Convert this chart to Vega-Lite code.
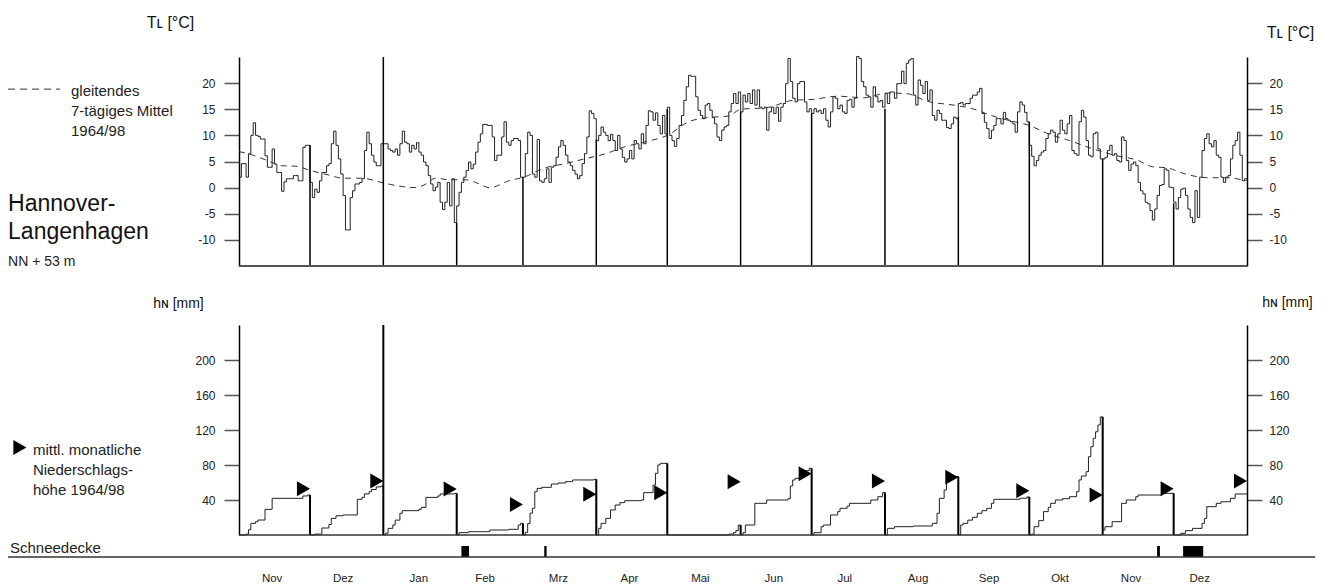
{
  "$schema": "https://vega.github.io/schema/vega-lite/v6.json",
  "width": 1008,
  "height": 478,
  "autosize": {"type": "none"},
  "padding": {"left": 239, "top": 57, "right": 84, "bottom": 52},
  "background": "white",
  "config": {"view": {"stroke": null}, "font": "Liberation Sans", "axis": {"grid": false}, "text": {"font": "Liberation Sans", "color": "#222"}},
  "datasets": {
    "temp": [
      {"d":0,"t":2.0},{"d":1,"t":4.6},{"d":2,"t":4.6},{"d":3,"t":2.0},{"d":4,"t":6.5},{"d":5,"t":10.0},{"d":6,"t":12.4},{"d":7,"t":10.0},{"d":8,"t":9.8},{"d":9,"t":9.3},
      {"d":10,"t":9.3},{"d":11,"t":6.1},{"d":12,"t":3.9},{"d":13,"t":3.9},{"d":14,"t":7.4},{"d":15,"t":4.5},{"d":16,"t":2.9},{"d":17,"t":2.9},{"d":18,"t":-0.7},{"d":19,"t":1.1},
      {"d":20,"t":1.7},{"d":21,"t":1.7},{"d":22,"t":1.7},{"d":23,"t":2.3},{"d":24,"t":2.3},{"d":25,"t":1.3},{"d":26,"t":1.3},{"d":27,"t":7.7},{"d":28,"t":8.1},{"d":29,"t":8.1},
      {"d":30,"t":1.0},{"d":31,"t":-1.9},{"d":32,"t":-0.3},{"d":33,"t":-0.9},{"d":34,"t":1.3},{"d":35,"t":2.9},{"d":36,"t":2.9},{"d":37,"t":4.2},{"d":38,"t":4.6},{"d":39,"t":8.4},
      {"d":40,"t":10.8},{"d":41,"t":8.1},{"d":42,"t":5.5},{"d":43,"t":2.6},{"d":44,"t":-1.5},{"d":45,"t":-8.1},{"d":46,"t":-8.1},{"d":47,"t":-1.9},{"d":48,"t":-0.6},{"d":49,"t":0.7},
      {"d":50,"t":0.7},{"d":51,"t":1.0},{"d":52,"t":1.7},{"d":53,"t":7.1},{"d":54,"t":10.6},{"d":55,"t":8.4},{"d":56,"t":6.2},{"d":57,"t":4.9},{"d":58,"t":4.2},{"d":59,"t":4.2},
      {"d":60,"t":8.4},{"d":61,"t":8.4},{"d":62,"t":8.4},{"d":63,"t":7.4},{"d":64,"t":7.1},{"d":65,"t":6.8},{"d":66,"t":7.4},{"d":67,"t":6.2},{"d":68,"t":8.4},{"d":69,"t":10.8},
      {"d":70,"t":8.7},{"d":71,"t":8.4},{"d":72,"t":6.8},{"d":73,"t":8.1},{"d":74,"t":7.4},{"d":75,"t":8.6},{"d":76,"t":6.8},{"d":77,"t":6.2},{"d":78,"t":4.9},{"d":79,"t":4.2},
      {"d":80,"t":2.3},{"d":81,"t":0.7},{"d":82,"t":-0.6},{"d":83,"t":0.1},{"d":84,"t":1.0},{"d":85,"t":-2.8},{"d":86,"t":-4.2},{"d":87,"t":-2.8},{"d":88,"t":1.0},{"d":89,"t":-3.5},
      {"d":90,"t":1.7},{"d":91,"t":-6.7},{"d":92,"t":-3.5},{"d":93,"t":-0.9},{"d":94,"t":1.0},{"d":95,"t":2.0},{"d":96,"t":3.3},{"d":97,"t":4.9},{"d":98,"t":3.6},{"d":99,"t":4.5},
      {"d":100,"t":6.8},{"d":101,"t":8.7},{"d":102,"t":10.3},{"d":103,"t":12.1},{"d":104,"t":12.1},{"d":105,"t":11.9},{"d":106,"t":11.9},{"d":107,"t":9.7},{"d":108,"t":5.2},{"d":109,"t":6.2},
      {"d":110,"t":6.2},{"d":111,"t":9.7},{"d":112,"t":12.6},{"d":113,"t":8.7},{"d":114,"t":8.1},{"d":115,"t":9.0},{"d":116,"t":9.4},{"d":117,"t":9.4},{"d":118,"t":9.0},{"d":119,"t":2.0},
      {"d":120,"t":2.0},{"d":121,"t":6.5},{"d":122,"t":10.6},{"d":123,"t":10.0},{"d":124,"t":2.6},{"d":125,"t":2.0},{"d":126,"t":9.2},{"d":127,"t":1.3},{"d":128,"t":1.0},{"d":129,"t":1.7},
      {"d":130,"t":3.6},{"d":131,"t":1.0},{"d":132,"t":3.9},{"d":133,"t":4.2},{"d":134,"t":5.8},{"d":135,"t":7.8},{"d":136,"t":9.0},{"d":137,"t":8.1},{"d":138,"t":6.2},{"d":139,"t":4.9},
      {"d":140,"t":4.2},{"d":141,"t":3.3},{"d":142,"t":2.6},{"d":143,"t":1.7},{"d":144,"t":2.3},{"d":145,"t":4.6},{"d":146,"t":6.5},{"d":147,"t":9.7},{"d":148,"t":14.7},{"d":149,"t":14.2},
      {"d":150,"t":13.2},{"d":151,"t":9.0},{"d":152,"t":10.0},{"d":153,"t":11.6},{"d":154,"t":10.6},{"d":155,"t":10.0},{"d":156,"t":9.0},{"d":157,"t":10.2},{"d":158,"t":9.0},{"d":159,"t":7.1},
      {"d":160,"t":10.0},{"d":161,"t":7.4},{"d":162,"t":5.8},{"d":163,"t":4.9},{"d":164,"t":5.5},{"d":165,"t":7.1},{"d":166,"t":5.5},{"d":167,"t":9.0},{"d":168,"t":8.4},{"d":169,"t":7.4},
      {"d":170,"t":10.3},{"d":171,"t":8.4},{"d":172,"t":11.9},{"d":173,"t":14.7},{"d":174,"t":14.5},{"d":175,"t":12.9},{"d":176,"t":14.3},{"d":177,"t":11.9},{"d":178,"t":10.3},{"d":179,"t":13.8},
      {"d":180,"t":10.3},{"d":181,"t":15.4},{"d":182,"t":10.0},{"d":183,"t":9.0},{"d":184,"t":7.9},{"d":185,"t":9.4},{"d":186,"t":11.9},{"d":187,"t":13.8},{"d":188,"t":16.7},{"d":189,"t":19.3},
      {"d":190,"t":21.5},{"d":191,"t":21.3},{"d":192,"t":21.3},{"d":193,"t":17.4},{"d":194,"t":14.8},{"d":195,"t":13.8},{"d":196,"t":13.2},{"d":197,"t":15.8},{"d":198,"t":16.1},{"d":199,"t":14.8},
      {"d":200,"t":13.4},{"d":201,"t":12.2},{"d":202,"t":9.7},{"d":203,"t":9.0},{"d":204,"t":11.0},{"d":205,"t":11.6},{"d":206,"t":11.9},{"d":207,"t":14.5},{"d":208,"t":16.1},{"d":209,"t":18.0},
      {"d":210,"t":16.1},{"d":211,"t":18.3},{"d":212,"t":14.5},{"d":213,"t":17.7},{"d":214,"t":16.4},{"d":215,"t":18.0},{"d":216,"t":16.1},{"d":217,"t":18.7},{"d":218,"t":15.8},{"d":219,"t":18.7},
      {"d":220,"t":15.4},{"d":221,"t":15.1},{"d":222,"t":15.4},{"d":223,"t":11.0},{"d":224,"t":14.5},{"d":225,"t":15.4},{"d":226,"t":14.2},{"d":227,"t":15.4},{"d":228,"t":12.7},{"d":229,"t":15.4},
      {"d":230,"t":16.1},{"d":231,"t":19.9},{"d":232,"t":24.7},{"d":233,"t":20.3},{"d":234,"t":17.1},{"d":235,"t":16.4},{"d":236,"t":19.9},{"d":237,"t":20.3},{"d":238,"t":20.3},{"d":239,"t":16.4},
      {"d":240,"t":14.5},{"d":241,"t":15.1},{"d":242,"t":14.2},{"d":243,"t":15.1},{"d":244,"t":14.5},{"d":245,"t":14.8},{"d":246,"t":14.2},{"d":247,"t":15.1},{"d":248,"t":12.9},{"d":249,"t":11.6},
      {"d":250,"t":14.5},{"d":251,"t":17.4},{"d":252,"t":17.1},{"d":253,"t":15.1},{"d":254,"t":15.8},{"d":255,"t":14.5},{"d":256,"t":14.2},{"d":257,"t":16.7},{"d":258,"t":16.9},{"d":259,"t":15.4},
      {"d":260,"t":17.1},{"d":261,"t":25.1},{"d":262,"t":24.7},{"d":263,"t":20.3},{"d":264,"t":19.3},{"d":265,"t":17.7},{"d":266,"t":17.4},{"d":267,"t":15.4},{"d":268,"t":19.3},{"d":269,"t":17.4},
      {"d":270,"t":16.4},{"d":271,"t":16.7},{"d":272,"t":15.4},{"d":273,"t":18.0},{"d":274,"t":16.1},{"d":275,"t":18.3},{"d":276,"t":18.3},{"d":277,"t":17.1},{"d":278,"t":19.9},{"d":279,"t":19.9},
      {"d":280,"t":22.3},{"d":281,"t":19.9},{"d":282,"t":23.8},{"d":283,"t":24.4},{"d":284,"t":24.7},{"d":285,"t":17.7},{"d":286,"t":15.8},{"d":287,"t":20.6},{"d":288,"t":19.6},{"d":289,"t":18.0},
      {"d":290,"t":20.3},{"d":291,"t":16.7},{"d":292,"t":18.7},{"d":293,"t":13.8},{"d":294,"t":12.9},{"d":295,"t":14.8},{"d":296,"t":14.2},{"d":297,"t":12.9},{"d":298,"t":12.9},{"d":299,"t":11.5},
      {"d":300,"t":11.3},{"d":301,"t":12.2},{"d":302,"t":13.5},{"d":303,"t":13.2},{"d":304,"t":16.1},{"d":305,"t":16.3},{"d":306,"t":15.8},{"d":307,"t":16.1},{"d":308,"t":16.1},{"d":309,"t":17.1},
      {"d":310,"t":17.7},{"d":311,"t":17.7},{"d":312,"t":18.3},{"d":313,"t":19.0},{"d":314,"t":14.2},{"d":315,"t":12.5},{"d":316,"t":11.3},{"d":317,"t":9.4},{"d":318,"t":11.0},{"d":319,"t":11.9},
      {"d":320,"t":13.2},{"d":321,"t":13.2},{"d":322,"t":12.2},{"d":323,"t":14.4},{"d":324,"t":13.2},{"d":325,"t":12.9},{"d":326,"t":12.6},{"d":327,"t":12.2},{"d":328,"t":10.6},{"d":329,"t":14.5},
      {"d":330,"t":16.4},{"d":331,"t":15.8},{"d":332,"t":14.4},{"d":333,"t":12.6},{"d":334,"t":8.1},{"d":335,"t":6.0},{"d":336,"t":4.2},{"d":337,"t":5.2},{"d":338,"t":6.2},{"d":339,"t":6.8},
      {"d":340,"t":7.1},{"d":341,"t":9.4},{"d":342,"t":10.3},{"d":343,"t":11.0},{"d":344,"t":10.6},{"d":345,"t":8.7},{"d":346,"t":10.3},{"d":347,"t":12.9},{"d":348,"t":11.0},{"d":349,"t":10.3},
      {"d":350,"t":12.2},{"d":351,"t":13.8},{"d":352,"t":7.1},{"d":353,"t":6.5},{"d":354,"t":6.2},{"d":355,"t":12.6},{"d":356,"t":14.8},{"d":357,"t":13.5},{"d":358,"t":9.0},{"d":359,"t":6.2},
      {"d":360,"t":5.9},{"d":361,"t":10.3},{"d":362,"t":10.6},{"d":363,"t":7.4},{"d":364,"t":5.5},{"d":365,"t":5.5},{"d":366,"t":5.8},{"d":367,"t":7.1},{"d":368,"t":8.1},{"d":369,"t":6.2},
      {"d":370,"t":6.5},{"d":371,"t":5.2},{"d":372,"t":4.9},{"d":373,"t":9.7},{"d":374,"t":9.0},{"d":375,"t":5.2},{"d":376,"t":3.3},{"d":377,"t":4.5},{"d":378,"t":4.9},{"d":379,"t":4.2},
      {"d":380,"t":1.0},{"d":381,"t":-0.6},{"d":382,"t":-1.2},{"d":383,"t":-2.8},{"d":384,"t":-3.1},{"d":385,"t":-4.4},{"d":386,"t":-6.2},{"d":387,"t":-4.1},{"d":388,"t":-1.5},{"d":389,"t":0.4},
      {"d":390,"t":0.6},{"d":391,"t":3.6},{"d":392,"t":3.3},{"d":393,"t":0.1},{"d":394,"t":0.0},{"d":395,"t":-2.8},{"d":396,"t":-4.1},{"d":397,"t":-1.9},{"d":398,"t":-0.3},{"d":399,"t":-0.1},
      {"d":400,"t":-1.5},{"d":401,"t":-4.1},{"d":402,"t":-5.7},{"d":403,"t":-6.7},{"d":404,"t":-0.6},{"d":405,"t":-5.7},{"d":406,"t":2.0},{"d":407,"t":7.1},{"d":408,"t":9.4},{"d":409,"t":10.3},
      {"d":410,"t":8.4},{"d":411,"t":7.8},{"d":412,"t":9.0},{"d":413,"t":6.2},{"d":414,"t":5.8},{"d":415,"t":2.0},{"d":416,"t":1.0},{"d":417,"t":2.0},{"d":418,"t":2.3},{"d":419,"t":5.5},
      {"d":420,"t":8.1},{"d":421,"t":9.0},{"d":422,"t":10.6},{"d":423,"t":6.2},{"d":424,"t":1.3},{"d":425,"t":1.7},{"d":426,"t":1.7}
    ],
    "mean": [
      {"d":0,"t":6.9},{"d":6,"t":6.2},{"d":13,"t":5.0},{"d":18,"t":4.2},{"d":24,"t":4.1},{"d":30,"t":3.3},{"d":38,"t":2.4},{"d":44,"t":1.8},{"d":52,"t":1.8},{"d":61,"t":0.9},
      {"d":69,"t":0.2},{"d":75,"t":0.0},{"d":79,"t":0.7},{"d":83,"t":1.8},{"d":89,"t":1.5},{"d":96,"t":1.5},{"d":100,"t":1.0},{"d":106,"t":0.0},{"d":114,"t":1.3},{"d":121,"t":2.1},
      {"d":128,"t":3.6},{"d":138,"t":4.6},{"d":146,"t":5.5},{"d":155,"t":6.5},{"d":163,"t":7.8},{"d":173,"t":8.9},{"d":181,"t":10.0},{"d":190,"t":12.6},{"d":198,"t":13.4},{"d":207,"t":13.7},
      {"d":212,"t":15.0},{"d":223,"t":15.3},{"d":234,"t":16.7},{"d":243,"t":16.9},{"d":253,"t":17.5},{"d":264,"t":17.2},{"d":274,"t":18.1},{"d":282,"t":18.0},{"d":291,"t":16.5},{"d":302,"t":15.8},
      {"d":310,"t":15.1},{"d":318,"t":13.8},{"d":325,"t":12.9},{"d":334,"t":11.9},{"d":342,"t":10.3},{"d":351,"t":9.0},{"d":361,"t":7.4},{"d":370,"t":6.2},{"d":380,"t":5.2},{"d":386,"t":4.0},
      {"d":392,"t":3.8},{"d":400,"t":2.6},{"d":409,"t":1.9},{"d":417,"t":1.9},{"d":426,"t":1.3}
    ],
    "prec": [
      {"d":0,"p":0},{"d":3,"p":1},{"d":4,"p":6},{"d":5,"p":13.3},{"d":7,"p":15.2},{"d":8,"p":17.1},{"d":11,"p":29.3},{"d":14,"p":41.9},{"d":27,"p":44.6},{"d":29,"p":45.7},
      {"d":30,"p":0},{"d":32,"p":1},{"d":35,"p":8},{"d":38,"p":12},{"d":39,"p":19},{"d":41,"p":22},{"d":44,"p":22.9},{"d":50,"p":40.8},{"d":52,"p":43},{"d":53,"p":47},{"d":55,"p":49.5},{"d":56,"p":52},{"d":58,"p":55},{"d":60,"p":56},
      {"d":61,"p":0},{"d":62,"p":2},{"d":63,"p":7.6},{"d":65,"p":11.4},{"d":66,"p":17},{"d":68,"p":24.8},{"d":69,"p":27.8},{"d":76,"p":29.3},{"d":77,"p":31.6},{"d":79,"p":43},{"d":84,"p":44.6},{"d":85,"p":46.9},{"d":91,"p":47.6},
      {"d":92,"p":0},{"d":93,"p":2.7},{"d":97,"p":3.8},{"d":106,"p":5.7},{"d":114,"p":6.5},{"d":118,"p":11.4},{"d":119,"p":13.3},
      {"d":120,"p":0},{"d":121,"p":3},{"d":122,"p":13},{"d":123,"p":25},{"d":124,"p":30.5},{"d":125,"p":49.5},{"d":126,"p":53.3},{"d":128,"p":54.5},{"d":132,"p":58.3},{"d":135,"p":59.5},{"d":138,"p":61},{"d":141,"p":62.9},{"d":150,"p":63.6},
      {"d":151,"p":0},{"d":152,"p":7.6},{"d":153,"p":13.3},{"d":155,"p":19},{"d":157,"p":28.6},{"d":159,"p":34.3},{"d":161,"p":37},{"d":163,"p":39.2},{"d":170,"p":40},{"d":171,"p":48.4},{"d":175,"p":57},{"d":176,"p":70.5},{"d":177,"p":80},{"d":178,"p":81.9},
      {"d":181,"p":0},{"d":207,"p":1},{"d":209,"p":2.7},{"d":210,"p":5},{"d":211,"p":11.4},
      {"d":212,"p":0},{"d":213,"p":2.7},{"d":214,"p":11.4},{"d":218,"p":36.2},{"d":223,"p":40},{"d":232,"p":41.5},{"d":233,"p":56},{"d":234,"p":62.9},{"d":235,"p":64.8},{"d":237,"p":68.6},{"d":239,"p":73.5},{"d":241,"p":76.2},
      {"d":242,"p":0},{"d":243,"p":2.7},{"d":246,"p":9.5},{"d":247,"p":11.4},{"d":250,"p":22.9},{"d":253,"p":26.7},{"d":254,"p":30.5},{"d":257,"p":33},{"d":258,"p":36.2},{"d":267,"p":40},{"d":270,"p":43.8},{"d":272,"p":48.4},
      {"d":273,"p":0},{"d":274,"p":7.6},{"d":277,"p":9.5},{"d":285,"p":10.3},{"d":293,"p":13.3},{"d":295,"p":24.8},{"d":296,"p":41.9},{"d":298,"p":51.4},{"d":299,"p":62.9},{"d":300,"p":66.7},
      {"d":304,"p":0},{"d":305,"p":11.4},{"d":306,"p":13.3},{"d":308,"p":17},{"d":310,"p":20.2},{"d":312,"p":24.8},{"d":314,"p":27.8},{"d":316,"p":30.5},{"d":318,"p":36.2},{"d":319,"p":40.8},{"d":330,"p":42},{"d":333,"p":43.5},
      {"d":334,"p":0},{"d":335,"p":1},{"d":336,"p":9.5},{"d":338,"p":16.4},{"d":340,"p":26.7},{"d":342,"p":31.6},{"d":343,"p":36.2},{"d":345,"p":40},{"d":348,"p":41.5},{"d":351,"p":43.8},{"d":354,"p":49.5},{"d":355,"p":62.9},{"d":356,"p":67.4},{"d":358,"p":72.4},{"d":359,"p":89.5},{"d":360,"p":101},{"d":361,"p":110.5},{"d":362,"p":118},{"d":363,"p":125.7},{"d":364,"p":135},
      {"d":365,"p":5.7},{"d":366,"p":9.5},{"d":369,"p":15.2},{"d":373,"p":36.2},{"d":375,"p":40},{"d":379,"p":43.8},{"d":380,"p":45.7},{"d":390,"p":47.6},
      {"d":395,"p":0},{"d":398,"p":1.9},{"d":400,"p":5},{"d":403,"p":7.6},{"d":407,"p":13.3},{"d":408,"p":19},{"d":409,"p":32.4},{"d":413,"p":36.2},{"d":415,"p":38},{"d":419,"p":41.9},{"d":421,"p":46.9},{"d":426,"p":46.9}
    ],
    "months": [
      {"d":30,"tmax":8.1,"ptot":45.7},{"d":61,"tmax":25,"ptot":240},{"d":92,"tmax":-6.7,"ptot":47.6},{"d":120,"tmax":2.0,"ptot":13.3},
      {"d":151,"tmax":9.2,"ptot":63.6},{"d":181,"tmax":15.0,"ptot":81.9},{"d":212,"tmax":14.5,"ptot":11.4},{"d":242,"tmax":14.2,"ptot":76.2},
      {"d":273,"tmax":15.1,"ptot":48.4},{"d":304,"tmax":13.5,"ptot":66.7},{"d":334,"tmax":12.6,"ptot":43.5},{"d":365,"tmax":5.5,"ptot":135},
      {"d":395,"tmax":-3.0,"ptot":47.6}
    ],
    "norm": [
      {"d":30,"p":53},{"d":61,"p":61.7},{"d":92,"p":52.6},{"d":120,"p":35},{"d":151,"p":46.5},{"d":181,"p":48.4},{"d":212,"p":61},
      {"d":242,"p":70},{"d":273,"p":61.7},{"d":304,"p":65.9},{"d":334,"p":50.7},{"d":365,"p":45.7},{"d":395,"p":53},{"d":426,"p":61.7}
    ],
    "snow": [
      {"s":94,"e":97.2},{"s":129,"e":130},{"s":388,"e":389.2},{"s":399,"e":407.5}
    ],
    "mlabels": [
      {"m":"Nov","d":14},{"m":"Dez","d":44},{"m":"Jan","d":76},{"m":"Feb","d":104},{"m":"Mrz","d":135},{"m":"Apr","d":165},{"m":"Mai","d":195},
      {"m":"Jun","d":226},{"m":"Jul","d":256},{"m":"Aug","d":287},{"m":"Sep","d":317},{"m":"Okt","d":347},{"m":"Nov","d":377},{"m":"Dez","d":406}
    ]
  },
  "layer": [
    {
      "data": {"name": "temp"},
      "mark": {"type": "line", "interpolate": "step-after", "stroke": "#222", "strokeWidth": 1},
      "encoding": {
        "x": {"field": "d", "type": "quantitative", "scale": {"domain": [0, 426], "nice": false, "zero": false}, "axis": null},
        "y": {"field": "t", "type": "quantitative", "scale": {"domain": [-15, 25], "range": [209, 0], "nice": false, "zero": false},
          "axis": {"orient": "left", "values": [-10,-5,0,5,10,15,20], "labelExpr": "'' + datum.value", "tickSize": 15, "tickColor": "#555", "tickWidth": 1.5,
            "domainColor": "#000", "domainWidth": 1.5, "labelFont": "Liberation Sans", "labelFontSize": 12, "labelColor": "#222", "labelPadding": 9,
            "title": "Tʟ [°C]", "titleAngle": 0, "titleX": -69, "titleY": -30, "titleAlign": "center", "titleBaseline": "alphabetic",
            "titleFont": "Liberation Sans", "titleFontSize": 16, "titleFontWeight": "normal", "titleColor": "#111"}}
      }
    },
    {
      "data": {"name": "mean"},
      "mark": {"type": "line", "interpolate": "monotone", "strokeDash": [6, 5], "stroke": "#333", "strokeWidth": 1},
      "encoding": {
        "x": {"field": "d", "type": "quantitative", "scale": {"domain": [0, 426], "nice": false, "zero": false}, "axis": null},
        "y": {"field": "t", "type": "quantitative", "scale": {"domain": [-15, 25], "range": [209, 0], "nice": false, "zero": false},
          "axis": {"orient": "right", "values": [-10,-5,0,5,10,15,20], "labelExpr": "'' + datum.value", "tickSize": 15, "tickColor": "#555", "tickWidth": 1.5,
            "domainColor": "#000", "domainWidth": 1.5, "labelFont": "Liberation Sans", "labelFontSize": 12, "labelColor": "#222", "labelPadding": 7,
            "title": "Tʟ [°C]", "titleAngle": 0, "titleX": 43, "titleY": -20, "titleAlign": "center", "titleBaseline": "alphabetic",
            "titleFont": "Liberation Sans", "titleFontSize": 16, "titleFontWeight": "normal", "titleColor": "#111"}}
      }
    },
    {
      "data": {"name": "months"},
      "mark": {"type": "rule", "stroke": "#000", "strokeWidth": 1.5},
      "encoding": {
        "x": {"field": "d", "type": "quantitative", "scale": {"domain": [0, 426], "nice": false, "zero": false}, "axis": null},
        "y": {"field": "tmax", "type": "quantitative", "scale": {"domain": [-15, 25], "range": [209, 0], "nice": false, "zero": false}, "axis": null},
        "y2": {"datum": -15}
      }
    },
    {
      "data": {"values": [{}]},
      "mark": {"type": "rule", "stroke": "#555", "strokeWidth": 2},
      "encoding": {
        "x": {"datum": 0, "type": "quantitative", "scale": {"domain": [0, 426], "nice": false, "zero": false}, "axis": null},
        "x2": {"datum": 426},
        "y": {"datum": -15, "type": "quantitative", "scale": {"domain": [-15, 25], "range": [209, 0], "nice": false, "zero": false}, "axis": null}
      }
    },
    {
      "data": {"name": "prec"},
      "mark": {"type": "line", "interpolate": "step-after", "stroke": "#222", "strokeWidth": 1},
      "encoding": {
        "x": {"field": "d", "type": "quantitative", "scale": {"domain": [0, 426], "nice": false, "zero": false}, "axis": null},
        "y": {"field": "p", "type": "quantitative", "scale": {"domain": [0, 240], "range": [478, 268], "nice": false, "zero": false},
          "axis": {"orient": "left", "values": [40,80,120,160,200], "tickSize": 15, "tickColor": "#555", "tickWidth": 1.5,
            "domainColor": "#000", "domainWidth": 1.5, "labelFont": "Liberation Sans", "labelFontSize": 12, "labelColor": "#222", "labelPadding": 9,
            "title": "hɴ [mm]", "titleAngle": 0, "titleX": -61, "titleY": 250, "titleAlign": "center", "titleBaseline": "alphabetic",
            "titleFont": "Liberation Sans", "titleFontSize": 14, "titleFontWeight": "normal", "titleColor": "#111"}}
      }
    },
    {
      "data": {"name": "months"},
      "mark": {"type": "rule", "stroke": "#000", "strokeWidth": 2},
      "encoding": {
        "x": {"field": "d", "type": "quantitative", "scale": {"domain": [0, 426], "nice": false, "zero": false}, "axis": null},
        "y": {"field": "ptot", "type": "quantitative", "scale": {"domain": [0, 240], "range": [478, 268], "nice": false, "zero": false}, "axis": null},
        "y2": {"datum": 0}
      }
    },
    {
      "data": {"values": [{}]},
      "mark": {"type": "rule", "stroke": "#333", "strokeWidth": 1.5},
      "encoding": {
        "x": {"datum": 0, "type": "quantitative", "scale": {"domain": [0, 426], "nice": false, "zero": false}, "axis": null},
        "x2": {"datum": 426},
        "y": {"datum": 0, "type": "quantitative", "scale": {"domain": [0, 240], "range": [478, 268], "nice": false, "zero": false}, "axis": null}
      }
    },
    {
      "data": {"name": "norm"},
      "mark": {"type": "point", "shape": "M-0.87,-1L0.87,0L-0.87,1Z", "size": 225, "filled": true, "fill": "#000", "opacity": 1, "xOffset": -6.5},
      "encoding": {
        "x": {"field": "d", "type": "quantitative", "scale": {"domain": [0, 426], "nice": false, "zero": false}, "axis": null},
        "y": {"field": "p", "type": "quantitative", "scale": {"domain": [0, 240], "range": [478, 268], "nice": false, "zero": false},
          "axis": {"orient": "right", "values": [40,80,120,160,200], "tickSize": 15, "tickColor": "#555", "tickWidth": 1.5,
            "domainColor": "#000", "domainWidth": 1.5, "labelFont": "Liberation Sans", "labelFontSize": 12, "labelColor": "#222", "labelPadding": 7,
            "title": "hɴ [mm]", "titleAngle": 0, "titleX": 40, "titleY": 249, "titleAlign": "center", "titleBaseline": "alphabetic",
            "titleFont": "Liberation Sans", "titleFontSize": 14, "titleFontWeight": "normal", "titleColor": "#111"}}
      }
    },
    {
      "data": {"name": "snow"},
      "mark": {"type": "rect", "fill": "#000"},
      "encoding": {
        "x": {"field": "s", "type": "quantitative", "scale": {"domain": [0, 426], "nice": false, "zero": false}, "axis": null},
        "x2": {"field": "e"},
        "y": {"datum": 1, "type": "quantitative", "scale": {"domain": [0, 1], "range": [500, 489], "nice": false, "zero": false}, "axis": null},
        "y2": {"datum": 0}
      }
    },
    {
      "data": {"values": [{}]},
      "mark": {"type": "rule", "stroke": "#333", "strokeWidth": 1.5},
      "encoding": {
        "x": {"datum": -97.6, "type": "quantitative", "scale": {"domain": [0, 426], "nice": false, "zero": false}, "axis": null},
        "x2": {"datum": 454.8},
        "y": {"datum": 0, "type": "quantitative", "scale": {"domain": [0, 1], "range": [500, 489], "nice": false, "zero": false}, "axis": null}
      }
    },
    {
      "data": {"name": "mlabels"},
      "mark": {"type": "text", "align": "center", "baseline": "alphabetic", "fontSize": 11.5, "color": "#222"},
      "encoding": {
        "x": {"field": "d", "type": "quantitative", "scale": {"domain": [0, 426], "nice": false, "zero": false}, "axis": null},
        "y": {"datum": -2.27, "type": "quantitative", "scale": {"domain": [0, 1], "range": [500, 489], "nice": false, "zero": false}, "axis": null},
        "text": {"field": "m"}
      }
    },
    {
      "data": {"values": [{}]},
      "mark": {"type": "text", "text": "Schneedecke", "align": "left", "baseline": "alphabetic", "fontSize": 15, "color": "#222"},
      "encoding": {
        "x": {"datum": -96.8, "type": "quantitative", "scale": {"domain": [0, 426], "nice": false, "zero": false}, "axis": null},
        "y": {"datum": 0.36, "type": "quantitative", "scale": {"domain": [0, 1], "range": [500, 489], "nice": false, "zero": false}, "axis": null}
      }
    },
    {
      "data": {"values": [{}]},
      "mark": {"type": "rule", "stroke": "#333", "strokeWidth": 1, "strokeDash": [7, 5]},
      "encoding": {
        "x": {"datum": -97.6, "type": "quantitative", "scale": {"domain": [0, 426], "nice": false, "zero": false}, "axis": null},
        "x2": {"datum": -75.6},
        "y": {"datum": 18.85, "type": "quantitative", "scale": {"domain": [-15, 25], "range": [209, 0], "nice": false, "zero": false}, "axis": null}
      }
    },
    {
      "data": {"values": [{}]},
      "mark": {"type": "text", "text": ["gleitendes", "7-tägiges Mittel", "1964/98"], "align": "left", "baseline": "alphabetic", "fontSize": 15, "lineHeight": 20, "color": "#222"},
      "encoding": {
        "x": {"datum": -71, "type": "quantitative", "scale": {"domain": [0, 426], "nice": false, "zero": false}, "axis": null},
        "y": {"datum": 17.5, "type": "quantitative", "scale": {"domain": [-15, 25], "range": [209, 0], "nice": false, "zero": false}, "axis": null}
      }
    },
    {
      "data": {"values": [{}]},
      "mark": {"type": "text", "text": ["Hannover-", "Langenhagen"], "align": "left", "baseline": "alphabetic", "fontSize": 23, "lineHeight": 28, "color": "#111"},
      "encoding": {
        "x": {"datum": -97.6, "type": "quantitative", "scale": {"domain": [0, 426], "nice": false, "zero": false}, "axis": null},
        "y": {"datum": -4.42, "type": "quantitative", "scale": {"domain": [-15, 25], "range": [209, 0], "nice": false, "zero": false}, "axis": null}
      }
    },
    {
      "data": {"values": [{}]},
      "mark": {"type": "text", "text": "NN + 53 m", "align": "left", "baseline": "alphabetic", "fontSize": 14, "color": "#222"},
      "encoding": {
        "x": {"datum": -97.6, "type": "quantitative", "scale": {"domain": [0, 426], "nice": false, "zero": false}, "axis": null},
        "y": {"datum": -15.0, "type": "quantitative", "scale": {"domain": [-15, 25], "range": [209, 0], "nice": false, "zero": false}, "axis": null}
      }
    },
    {
      "data": {"values": [{}]},
      "mark": {"type": "point", "shape": "M-0.87,-1L0.87,0L-0.87,1Z", "size": 225, "filled": true, "fill": "#000", "opacity": 1},
      "encoding": {
        "x": {"datum": -92.6, "type": "quantitative", "scale": {"domain": [0, 426], "nice": false, "zero": false}, "axis": null},
        "y": {"datum": 100, "type": "quantitative", "scale": {"domain": [0, 240], "range": [478, 268], "nice": false, "zero": false}, "axis": null}
      }
    },
    {
      "data": {"values": [{}]},
      "mark": {"type": "text", "text": ["mittl. monatliche", "Niederschlags-", "höhe 1964/98"], "align": "left", "baseline": "alphabetic", "fontSize": 15, "lineHeight": 20, "color": "#222"},
      "encoding": {
        "x": {"datum": -87.1, "type": "quantitative", "scale": {"domain": [0, 426], "nice": false, "zero": false}, "axis": null},
        "y": {"datum": 91.4, "type": "quantitative", "scale": {"domain": [0, 240], "range": [478, 268], "nice": false, "zero": false}, "axis": null}
      }
    }
  ],
  "resolve": {"scale": {"y": "independent"}, "axis": {"y": "independent"}}
}
